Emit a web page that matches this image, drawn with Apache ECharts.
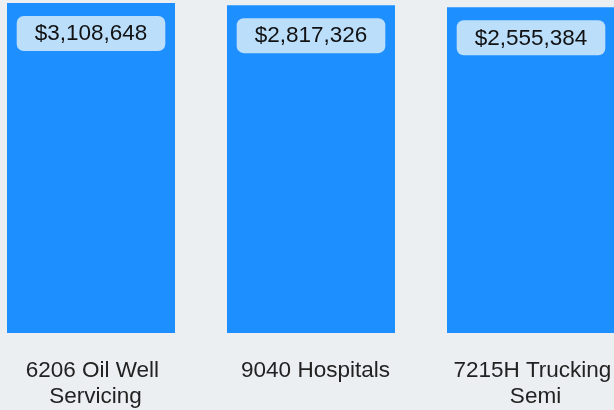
<!DOCTYPE html>
<html>
<head>
<meta charset="utf-8">
<script src="https://cdn.jsdelivr.net/npm/echarts@6/dist/echarts.min.js"></script>
<style>
  html, body { margin: 0; padding: 0; background: #eceff1; }
  #chart { width: 614px; height: 410px; }
</style>
</head>
<body>
<div id="chart"></div>
<script>
const categories = ["6206 Oil Well Servicing", "9040 Hospitals", "7215H Trucking Semi"];
const premiums = [3108648, 2817326, 2555384];

const chart = echarts.init(document.getElementById("chart"), null, { renderer: "canvas" });
chart.setOption({
  animation: false,
  backgroundColor: "#eceff1",
  grid: { left: -19, right: -27, top: 0, bottom: 77, containLabel: false, outerBoundsMode: "none" },
  xAxis: {
    type: "category",
    data: categories,
    axisLine: { show: false },
    axisTick: { show: false },
    axisLabel: {
      interval: 0,
      margin: 25,
      color: "#222",
      fontSize: 22.5,
      lineHeight: 26,
      fontFamily: "Liberation Sans, Arial, sans-serif",
      width: 180,
      overflow: "break",
      padding: [0, 0, 0, 9],
    },
  },
  yAxis: {
    type: "log",
    min: 1,
    max: 3560000,
    show: false,
    splitLine: { show: false },
  },
  series: [
    {
      type: "bar",
      data: premiums,
      barWidth: 168,
      itemStyle: { color: "#1e8fff" },
      label: {
        show: true,
        position: "insideTop",
        distance: 13,
        formatter: (p) => "$" + p.value.toLocaleString("en-US"),
        color: "#111",
        fontSize: 22.5,
        lineHeight: 24,
        fontFamily: "Liberation Sans, Arial, sans-serif",
        backgroundColor: "#bbdefb",
        borderRadius: 7,
        padding: [6, 18, 5, 18],
      },
    },
  ],
});
</script>
</body>
</html>
